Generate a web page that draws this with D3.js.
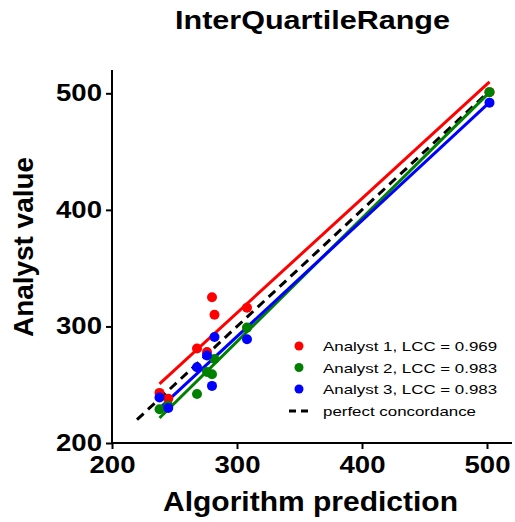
<!DOCTYPE html>
<html><head><meta charset="utf-8">
<script src="https://cdn.jsdelivr.net/npm/d3@7"></script>
<style>body{margin:0;background:#fff;} text{font-family:"Liberation Sans",Arial,sans-serif;}</style>
</head><body><svg id="c" width="515" height="522"></svg>
<script>
const algorithm = [238, 245, 268, 276, 280, 282, 308, 502];
const analyst1 = [243, 238, 281, 278, 325, 310, 316, 501];
const analyst2 = [229, 232, 242, 261, 259, 272, 299, 501];
const analyst3 = [239, 230, 265, 275, 249, 291, 289, 492];
const seriesNames = ["Analyst 1", "Analyst 2", "Analyst 3"];
const lcc = ["0.969", "0.983", "0.983"];
const colors = ["#ff0000", "#008000", "#0000ff"];
const ticks = [200, 300, 400, 500];
const identityRange = [220, 500];

const svg = d3.select("#c");
const x = d3.scaleLinear().domain([200, 520]).range([112, 512]);
const y = d3.scaleLinear().domain([200, 520]).range([443, 70]);

// axes
const xa = svg.append("g").attr("transform", "translate(0,443)")
  .call(d3.axisBottom(x).tickValues(ticks).tickSize(6).tickPadding(4));
const ya = svg.append("g").attr("transform", "translate(112,0)")
  .call(d3.axisLeft(y).tickValues(ticks).tickSize(6).tickPadding(4));
[xa, ya].forEach(a => {
  a.select(".domain").attr("stroke", "#000").attr("stroke-width", 2);
  a.selectAll(".tick line").attr("stroke", "#000").attr("stroke-width", 2);
  a.selectAll(".tick text").attr("font-size", 23).attr("font-weight", "bold")
    .attr("fill", "#000").style("font-family", '"Liberation Sans",Arial,sans-serif')
    .attr("textLength", 46).attr("lengthAdjust", "spacingAndGlyphs");
});
xa.select(".domain").attr("d", `M${x(200)},0H${x(520)}`);
ya.select(".domain").attr("d", `M0,${y(200)}V${y(520)}`);
xa.selectAll(".tick text").attr("y", 29.5).attr("dy", 0);

// identity line
svg.append("line")
  .attr("x1", x(identityRange[0])).attr("y1", y(identityRange[0]))
  .attr("x2", x(identityRange[1])).attr("y2", y(identityRange[1]))
  .attr("stroke", "#000").attr("stroke-width", 3).attr("stroke-dasharray", "9,6");

// deming regression
function deming(xs, ys) {
  const mx = d3.mean(xs), my = d3.mean(ys);
  let sxx = 0, syy = 0, sxy = 0;
  xs.forEach((v, i) => { sxx += (v - mx) ** 2; syy += (ys[i] - my) ** 2; sxy += (v - mx) * (ys[i] - my); });
  const b = (syy - sxx + Math.sqrt((syy - sxx) ** 2 + 4 * sxy * sxy)) / (2 * sxy);
  return { b, a: my - b * mx };
}
const all = [analyst1, analyst2, analyst3];
all.forEach((ys, k) => {
  const f = deming(algorithm, ys);
  const x0 = d3.min(algorithm), x1 = d3.max(algorithm);
  svg.append("line")
    .attr("x1", x(x0)).attr("y1", y(f.a + f.b * x0))
    .attr("x2", x(x1)).attr("y2", y(f.a + f.b * x1))
    .attr("stroke", colors[k]).attr("stroke-width", 3);
});
all.forEach((ys, k) => {
  svg.append("g").selectAll("circle").data(ys).join("circle")
    .attr("cx", (d, i) => x(algorithm[i])).attr("cy", d => y(d))
    .attr("r", 5).attr("fill", colors[k]);
});

// legend
const lg = svg.append("g");
seriesNames.forEach((n, k) => {
  const yy = 346 + k * 21.5;
  lg.append("circle").attr("cx", 299).attr("cy", yy).attr("r", 4.5).attr("fill", colors[k]);
  lg.append("text").attr("transform", `translate(323,${yy + 5}) scale(1.3,1)`).attr("font-size", 13)
    .attr("fill", "#000").text(`${n}, LCC = ${lcc[k]}`);
});
lg.append("line").attr("x1", 289).attr("x2", 311).attr("y1", 411).attr("y2", 411)
  .attr("stroke", "#000").attr("stroke-width", 3).attr("stroke-dasharray", "7,5");
lg.append("text").attr("transform", "translate(323,416) scale(1.3,1)").attr("font-size", 13).attr("fill", "#000")
  .text("perfect concordance");

// titles
svg.append("text").attr("x", 312.5).attr("y", 28.5).attr("text-anchor", "middle")
  .attr("font-size", 25).attr("font-weight", "bold")
  .attr("textLength", 275).attr("lengthAdjust", "spacingAndGlyphs").text("InterQuartileRange");
svg.append("text").attr("x", 310.5).attr("y", 511).attr("text-anchor", "middle")
  .attr("font-size", 28).attr("font-weight", "bold")
  .attr("textLength", 295).attr("lengthAdjust", "spacingAndGlyphs").text("Algorithm prediction");
svg.append("text").attr("transform", "translate(33,247) rotate(-90)").attr("text-anchor", "middle")
  .attr("font-size", 28).attr("font-weight", "bold")
  .attr("textLength", 180).attr("lengthAdjust", "spacingAndGlyphs").text("Analyst value");
</script></body></html>
